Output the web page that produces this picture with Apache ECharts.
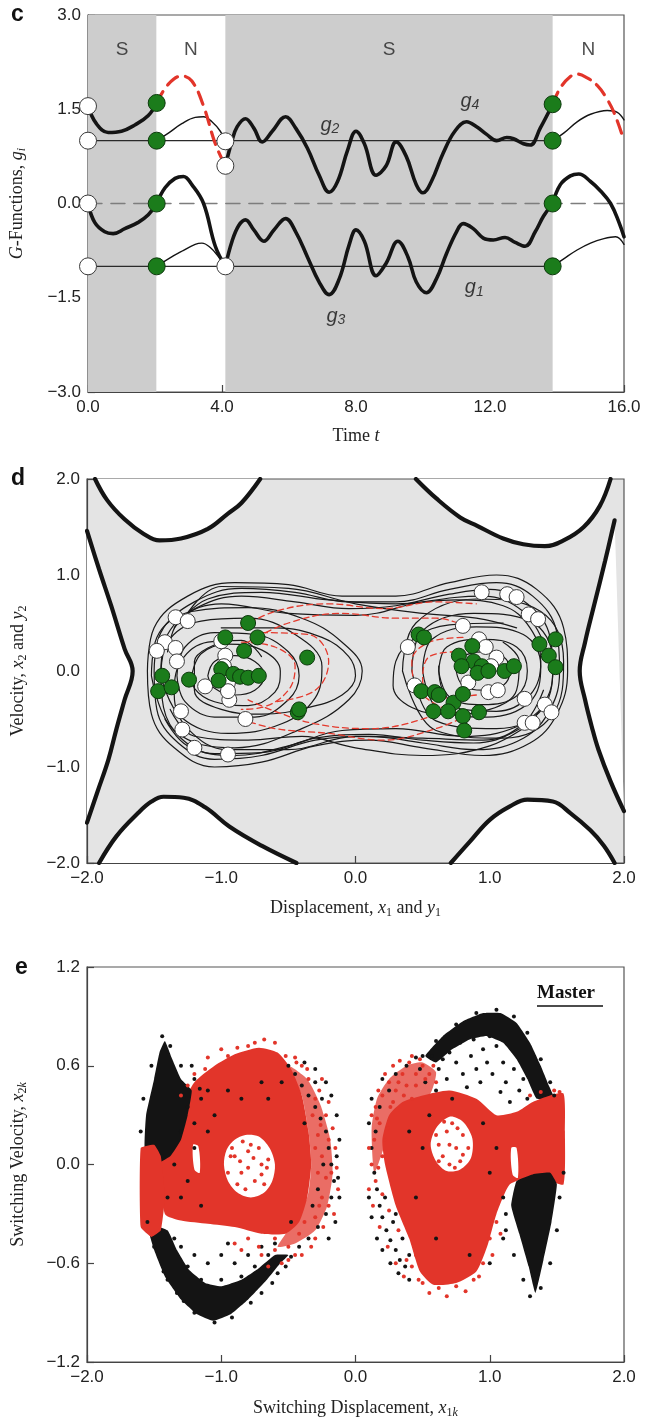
<!DOCTYPE html>
<html>
<head>
<meta charset="utf-8">
<script src="https://cdn.jsdelivr.net/npm/echarts@6/dist/echarts.min.js"></script>
<style>
  html, body { margin: 0; padding: 0; background: #fff; }
  #chart { width: 648px; height: 1427px; }
</style>
</head>
<body>
<div id="chart"></div>
<script>
// ---------- Panel c: G-functions over time ----------
const regionStart  = [0, 2.04, 4.1, 13.87];
const regionEnd    = [2.04, 4.1, 13.87, 16];
const regionLabel  = ['S', 'N', 'S', 'N'];
const regionShaded = [true, false, true, false];

const upperThickA = [[0,1.55],[0.25,1.27],[0.6,1.13],[1.0,1.15],[1.4,1.25],[1.8,1.4],[2.05,1.6]];
const upperDashA  = [[2.05,1.6],[2.4,1.9],[2.8,2.03],[3.1,1.95],[3.45,1.55],[3.8,0.95],[4.1,0.6]];
const upperThickB = [[4.1,0.6],[4.3,1.0],[4.45,1.22],[4.7,1.35],[4.95,1.2],[5.2,0.98],[5.5,1.15],[5.9,1.38],
  [6.2,1.2],[6.55,0.88],[6.9,0.45],[7.2,0.18],[7.45,0.35],[7.75,0.85],[8.0,1.15],[8.25,0.95],[8.6,0.45],
  [8.9,0.6],[9.2,0.98],[9.5,0.75],[9.8,0.3],[10.0,0.17],[10.25,0.35],[10.6,0.8],[10.95,1.15],[11.3,1.3],
  [11.6,1.22],[11.9,1.1],[12.2,1.0],[12.5,1.05],[12.7,1.03],[13.0,0.95],[13.2,0.93],[13.5,1.2],[13.87,1.58]];
const upperDashB  = [[13.87,1.58],[14.1,1.84],[14.4,2.02],[14.6,2.06],[14.9,2.0],[15.2,1.88],[15.45,1.7],[15.7,1.45],[16.0,1.0]];
const upperThinA  = [[2.05,1.0],[2.4,1.12],[2.8,1.27],[3.2,1.37],[3.45,1.38],[3.7,1.3],[3.95,1.15],[4.1,0.99]];
const upperThinB  = [[13.87,1.0],[14.2,1.12],[14.6,1.3],[15.0,1.42],[15.5,1.48],[15.8,1.45],[16.0,1.33]];

const lowerThickA = [[0,0],[0.2,-0.3],[0.5,-0.45],[0.75,-0.48],[1.1,-0.4],[1.5,-0.3],[1.8,-0.18],[2.05,0]];
const lowerThickB = [[2.05,0],[2.3,0.25],[2.6,0.4],[2.85,0.43],[3.1,0.3],[3.45,0.0],[3.8,-0.68],[4.1,-1.0]];
const lowerThickC = [[4.1,-1.0],[4.3,-0.6],[4.5,-0.35],[4.7,-0.26],[4.95,-0.42],[5.25,-0.6],[5.55,-0.42],
  [5.9,-0.24],[6.2,-0.45],[6.55,-0.85],[6.9,-1.25],[7.2,-1.45],[7.5,-1.2],[7.8,-0.65],[8.0,-0.42],[8.25,-0.6],
  [8.6,-1.15],[8.9,-0.95],[9.25,-0.6],[9.55,-0.85],[9.8,-1.25],[10.1,-1.42],[10.4,-1.2],[10.7,-0.8],[11.0,-0.45],
  [11.2,-0.32],[11.5,-0.4],[11.8,-0.55],[12.1,-0.58],[12.45,-0.54],[12.75,-0.62],[13.05,-0.68],[13.35,-0.45],
  [13.6,-0.2],[13.87,0]];
const lowerThickD = [[13.87,0],[14.1,0.3],[14.4,0.44],[14.65,0.47],[15.0,0.35],[15.3,0.2],[15.6,0.0],[15.85,-0.3],[16.0,-0.53]];
const lowerThinA  = [[2.05,-1.0],[2.4,-0.88],[2.8,-0.76],[3.2,-0.65],[3.4,-0.63],[3.65,-0.7],[3.9,-0.85],[4.1,-1.0]];
const lowerThinB  = [[13.87,-1.0],[14.2,-0.88],[14.6,-0.74],[15.0,-0.63],[15.4,-0.56],[15.75,-0.53],[16.0,-0.65]];

const baseHigh = [[0,1.0],[13.87,1.0]];
const baseLow  = [[0,-1.0],[13.87,-1.0]];
const zeroLine = [[0,0],[16,0]];

const whiteC = [[0,1.55],[0,1.0],[0,0],[0,-1.0],[4.1,0.99],[4.1,0.6],[4.1,-1.0]];
const greenC = [[2.05,1.6],[2.05,1.0],[2.05,0],[2.05,-1.0],[13.87,1.58],[13.87,1.0],[13.87,0],[13.87,-1.0]];

const gLabelSub = ['2', '4', '3', '1'];
const gLabelPos = [[7.22,1.25],[11.4,1.63],[7.4,-1.79],[11.53,-1.34]];

// ---------- Panel d: phase-plane trajectories ----------
const wallTopLeft  = [[-1.94,2.0],[-1.85,1.78],[-1.72,1.58],[-1.58,1.43],[-1.46,1.36],[-1.3,1.38],[-1.1,1.48],[-0.95,1.64],[-0.85,1.75],[-0.71,2.0]];
const wallTopRight = [[0.45,2.0],[0.6,1.8],[0.78,1.6],[0.91,1.51],[1.1,1.38],[1.25,1.32],[1.41,1.3],[1.55,1.36],[1.7,1.5],[1.82,1.72],[1.9,2.0]];
const wallLeft     = [[-2.0,1.46],[-1.91,1.06],[-1.82,0.68],[-1.72,0.23],[-1.66,0.0],[-1.72,-0.3],[-1.78,-0.6],[-1.84,-0.92],[-1.92,-1.25],[-2.0,-1.58]];
const wallRight    = [[1.93,1.57],[1.86,1.15],[1.78,0.7],[1.71,0.3],[1.67,0.0],[1.71,-0.3],[1.76,-0.58],[1.81,-0.82],[1.9,-1.15],[2.0,-1.46]];
const wallBotLeft  = [[-1.91,-2.0],[-1.78,-1.72],[-1.62,-1.48],[-1.52,-1.36],[-1.43,-1.31],[-1.28,-1.32],[-1.12,-1.42],[-0.94,-1.62],[-0.7,-1.82],[-0.44,-2.0]];
const wallBotRight = [[0.71,-2.0],[0.85,-1.78],[1.0,-1.55],[1.15,-1.41],[1.28,-1.34],[1.47,-1.36],[1.6,-1.48],[1.75,-1.66],[1.85,-1.82],[1.93,-2.0]];

const orbitsLeft = [
  [[-1.1,-0.05],[-1.05,0.1],[-0.9,0.16],[-0.75,0.1],[-0.68,-0.05],[-0.75,-0.2],[-0.9,-0.25],[-1.05,-0.18],[-1.1,-0.05]],
  [[-1.22,-0.05],[-1.15,0.18],[-0.95,0.28],[-0.7,0.22],[-0.56,0.0],[-0.6,-0.22],[-0.8,-0.36],[-1.05,-0.32],[-1.2,-0.18],[-1.22,-0.05]],
  [[-1.33,-0.05],[-1.27,0.25],[-1.05,0.4],[-0.75,0.38],[-0.5,0.2],[-0.42,-0.05],[-0.5,-0.3],[-0.75,-0.48],[-1.05,-0.48],[-1.27,-0.32],[-1.33,-0.05]],
  [[-1.45,-0.05],[-1.4,0.3],[-1.15,0.52],[-0.8,0.55],[-0.45,0.38],[-0.25,0.05],[-0.3,-0.28],[-0.55,-0.55],[-0.95,-0.65],[-1.3,-0.48],[-1.45,-0.05]],
  [[-1.52,-0.05],[-1.48,0.35],[-1.22,0.62],[-0.8,0.66],[-0.4,0.55],[-0.1,0.3],[0.05,0.0],[-0.05,-0.3],[-0.4,-0.6],[-0.9,-0.8],[-1.35,-0.62],[-1.52,-0.05]],
  [[-1.0,0.45],[-0.6,0.45],[-0.25,0.35],[-0.05,0.15],[0.0,-0.05],[-0.1,-0.25],[-0.35,-0.38],[-0.7,-0.45],[-1.0,-0.4],[-1.2,-0.2],[-1.2,0.1],[-1.0,0.3]]
];
const orbitsRight = [
  [[0.75,0],[0.8,0.15],[0.95,0.2],[1.1,0.15],[1.15,0],[1.1,-0.15],[0.95,-0.2],[0.8,-0.15],[0.75,0]],
  [[0.62,0],[0.68,0.25],[0.95,0.33],[1.2,0.25],[1.28,0],[1.2,-0.26],[0.95,-0.35],[0.7,-0.27],[0.62,0]],
  [[0.5,0],[0.57,0.33],[0.9,0.46],[1.25,0.38],[1.38,0.05],[1.3,-0.32],[0.98,-0.48],[0.62,-0.4],[0.5,0]],
  [[0.42,0.0],[0.5,0.42],[0.88,0.6],[1.3,0.52],[1.47,0.1],[1.4,-0.38],[1.05,-0.6],[0.6,-0.52],[0.42,0]],
  [[0.35,0],[0.45,0.5],[0.9,0.75],[1.38,0.62],[1.55,0.1],[1.47,-0.45],[1.1,-0.7],[0.6,-0.62],[0.35,0]],
  [[1.1,0.5],[0.7,0.48],[0.45,0.35],[0.3,0.1],[0.28,-0.15],[0.42,-0.38],[0.7,-0.45],[1.0,-0.4],[1.2,-0.2],[1.22,0.1],[1.1,0.3]]
];
const orbitsCross = [
  [[-1.55,0.0],[-1.5,0.45],[-1.25,0.78],[-0.9,0.92],[-0.5,0.9],[-0.1,0.78],[0.3,0.78],[0.7,0.92],[1.05,1.0],[1.35,0.85],[1.55,0.45],[1.58,0.0],[1.5,-0.45],[1.3,-0.75],[0.95,-0.88],[0.5,-0.8],[0.1,-0.72],[-0.3,-0.78],[-0.7,-0.95],[-1.05,-1.0],[-1.35,-0.8],[-1.52,-0.45],[-1.55,0]],
  [[-1.5,0.0],[-1.45,0.4],[-1.2,0.72],[-0.85,0.86],[-0.45,0.82],[-0.05,0.72],[0.3,0.72],[0.7,0.85],[1.05,0.92],[1.32,0.78],[1.5,0.4],[1.52,0.0],[1.45,-0.4],[1.25,-0.7],[0.9,-0.82],[0.5,-0.75],[0.1,-0.68],[-0.3,-0.72],[-0.7,-0.88],[-1.05,-0.92],[-1.32,-0.75],[-1.48,-0.4],[-1.5,0]],
  [[-1.45,0],[-1.4,0.38],[-1.18,0.66],[-0.85,0.78],[-0.45,0.72],[-0.05,0.65],[0.3,0.68],[0.7,0.8],[1.0,0.85],[1.28,0.7],[1.45,0.35],[1.47,0.0],[1.4,-0.35],[1.2,-0.62],[0.88,-0.75],[0.5,-0.72],[0.1,-0.66],[-0.3,-0.7],[-0.7,-0.85],[-1.05,-0.86],[-1.3,-0.7],[-1.43,-0.38],[-1.45,0]],
  [[-1.4,0.2],[-1.3,0.55],[-1.0,0.7],[-0.5,0.6],[0,0.58],[0.5,0.72],[0.95,0.78],[1.25,0.62],[1.4,0.3]],
  [[-1.3,0.5],[-1.0,0.88],[-0.5,0.86],[0,0.7],[0.5,0.6],[0.9,0.55],[1.2,0.45]],
  [[1.45,-0.3],[1.2,-0.58],[0.8,-0.68],[0.3,-0.6],[-0.1,-0.62],[-0.5,-0.78],[-0.9,-0.88],[-1.25,-0.78],[-1.42,-0.5]],
  [[1.35,-0.5],[1.0,-0.78],[0.5,-0.88],[0.0,-0.8],[-0.4,-0.68],[-0.8,-0.72],[-1.2,-0.68],[-1.38,-0.4]],
  [[-1.35,0.45],[-1.1,0.75],[-0.7,0.82],[-0.2,0.74],[0.3,0.7],[0.75,0.74],[1.1,0.68],[1.3,0.45],[1.38,0.1],[1.3,-0.25],[1.05,-0.42],[0.8,-0.4],[0.65,-0.2],[0.62,0.05]],
  [[1.4,-0.2],[1.25,-0.55],[0.95,-0.72],[0.5,-0.7],[0.0,-0.68],[-0.5,-0.82],[-0.95,-0.82],[-1.25,-0.6],[-1.35,-0.25],[-1.3,0.1],[-1.1,0.3],[-0.85,0.32],[-0.7,0.15]]
];
const slaveDashes = [
  [[-0.85,0.45],[-0.6,0.62],[-0.2,0.7],[0.2,0.65],[0.6,0.72],[0.9,0.7]],
  [[-0.8,0.3],[-0.5,0.5],[-0.1,0.6],[0.3,0.55],[0.6,0.55],[0.85,0.45]],
  [[0.85,-0.45],[0.6,-0.6],[0.2,-0.72],[-0.2,-0.65],[-0.6,-0.6],[-0.85,-0.5]],
  [[0.8,-0.3],[0.5,-0.5],[0.1,-0.6],[-0.3,-0.55],[-0.6,-0.42],[-0.8,-0.3]],
  [[-0.85,0.3],[-0.6,0.25],[-0.45,0.05],[-0.5,-0.2],[-0.7,-0.38],[-0.85,-0.4]],
  [[0.8,0.35],[0.55,0.3],[0.42,0.1],[0.45,-0.15],[0.6,-0.35],[0.8,-0.45]],
  [[-0.7,0.4],[-0.35,0.38],[-0.2,0.1],[-0.3,-0.2],[-0.6,-0.32]],
  [[0.75,0.2],[0.55,0.15],[0.5,-0.1],[0.65,-0.28],[0.9,-0.25]]
];

const whiteD = [[0.94,0.82],[1.13,0.8],[1.2,0.77],[1.29,0.59],[1.36,0.54],[0.8,0.47],[0.39,0.25],[0.44,-0.15],
  [0.92,0.33],[0.97,0.25],[1.05,0.14],[1.01,0.05],[0.84,-0.12],[0.99,-0.22],[1.06,-0.2],[1.26,-0.29],[1.41,-0.35],
  [1.46,-0.43],[1.26,-0.54],[1.32,-0.54],
  [-1.34,0.56],[-1.25,0.52],[-1.42,0.3],[-1.48,0.21],[-1.34,0.24],[-1.33,0.1],[-1.12,-0.16],[-0.95,-0.12],
  [-0.94,-0.3],[-0.95,-0.21],[-1.3,-0.42],[-1.29,-0.61],[-1.2,-0.8],[-0.95,-0.87],[-0.82,-0.5],[-0.97,0.16],
  [-0.98,0.05],[-1.0,0.31]];
const greenD = [[0.47,0.38],[0.51,0.35],[0.77,0.16],[0.87,0.26],[0.88,0.1],[0.94,0.05],[0.79,0.05],[0.91,-0.02],
  [0.99,0.0],[1.11,0.0],[1.18,0.05],[1.37,0.28],[1.49,0.33],[1.44,0.16],[1.49,0.04],[0.49,-0.21],[0.59,-0.22],
  [0.62,-0.25],[0.73,-0.33],[0.8,-0.24],[0.58,-0.42],[0.8,-0.47],[0.92,-0.43],[0.81,-0.62],[0.69,-0.42],
  [-0.8,0.5],[-0.73,0.35],[-0.97,0.35],[-0.83,0.21],[-0.36,0.14],[-1.44,-0.05],[-1.47,-0.21],[-1.37,-0.17],
  [-1.24,-0.09],[-1.0,0.02],[-1.02,-0.1],[-0.91,-0.03],[-0.86,-0.06],[-0.8,-0.07],[-0.72,-0.05],[-0.43,-0.43],[-0.42,-0.4]];

// ---------- Panel e: switching points ----------
const blackDense = [
  // lower-left crescent
  [[-1.55,-0.36],[-1.5,-0.52],[-1.42,-0.68],[-1.3,-0.82],[-1.18,-0.91],[-1.06,-0.95],[-0.93,-0.91],[-0.8,-0.82],
   [-0.66,-0.7],[-0.56,-0.6],[-0.5,-0.55],[-0.6,-0.55],[-0.72,-0.63],[-0.85,-0.7],[-1.0,-0.74],[-1.12,-0.72],
   [-1.24,-0.64],[-1.33,-0.52],[-1.4,-0.4]],
  // upper-left wedge
  [[-1.42,0.75],[-1.37,0.65],[-1.3,0.52],[-1.22,0.45],[-1.25,0.3],[-1.3,0.15],[-1.38,0.05],[-1.5,0.0],[-1.57,0.1],[-1.56,0.3],[-1.5,0.52],[-1.46,0.68]],
  // upper-right arc
  [[0.52,0.66],[0.65,0.78],[0.8,0.87],[0.95,0.92],[1.08,0.92],[1.2,0.86],[1.3,0.74],[1.38,0.6],[1.44,0.48],[1.48,0.4],
   [1.35,0.4],[1.28,0.52],[1.2,0.64],[1.1,0.74],[0.98,0.78],[0.85,0.76],[0.72,0.7],[0.6,0.62]],
  // lower-right wedge
  [[1.2,-0.1],[1.32,-0.06],[1.45,-0.05],[1.5,-0.12],[1.46,-0.35],[1.4,-0.58],[1.34,-0.78],[1.29,-0.62],[1.22,-0.42],[1.16,-0.25]]
];
const redDense = [
  [[-1.45,0.05],[-1.38,0.2],[-1.3,0.35],[-1.2,0.5],[-1.05,0.6],[-0.9,0.67],[-0.72,0.71],[-0.58,0.68],[-0.48,0.58],
   [-0.4,0.42],[-0.35,0.2],[-0.33,0.0],[-0.36,-0.2],[-0.42,-0.35],[-0.52,-0.42],[-0.7,-0.42],[-0.9,-0.38],
   [-1.1,-0.36],[-1.3,-0.34],[-1.42,-0.3]],
  [[-1.6,0.1],[-1.5,0.12],[-1.45,0.05],[-1.42,-0.2],[-1.45,-0.4],[-1.52,-0.44],[-1.6,-0.38]],
  [[0.25,0.3],[0.35,0.38],[0.5,0.42],[0.7,0.45],[0.9,0.4],[1.05,0.3],[1.2,0.32],[1.32,0.38],[1.45,0.42],[1.55,0.43],
   [1.56,0.2],[1.55,-0.12],[1.45,-0.1],[1.3,-0.08],[1.15,-0.12],[1.05,-0.3],[0.98,-0.5],[0.9,-0.65],[0.75,-0.72],
   [0.58,-0.73],[0.48,-0.65],[0.4,-0.45],[0.3,-0.25],[0.22,0.0],[0.2,0.15]]
];
// medium-density (mottled) zones, drawn lighter underneath the solid cores
const redMottled = [
  [[0.12,0.22],[0.16,0.4],[0.25,0.52],[0.38,0.6],[0.5,0.62],[0.6,0.56],[0.55,0.42],[0.4,0.38],[0.27,0.3],[0.21,0.1],[0.14,-0.05]],
  [[-0.5,0.6],[-0.36,0.52],[-0.26,0.36],[-0.19,0.16],[-0.17,-0.05],[-0.21,-0.25],[-0.3,-0.4],[-0.45,-0.48],[-0.58,-0.5],
   [-0.52,-0.42],[-0.36,-0.2],[-0.33,0.0],[-0.35,0.2],[-0.4,0.42]]
];
const voids = [
  [[-0.98,0.0],[-0.96,0.09],[-0.9,0.15],[-0.82,0.18],[-0.72,0.17],[-0.64,0.1],[-0.6,0.0],[-0.62,-0.1],[-0.68,-0.17],[-0.78,-0.2],[-0.88,-0.17],[-0.95,-0.1]],
  [[-1.21,0.12],[-1.17,0.11],[-1.16,-0.05],[-1.2,-0.03]],
  [[0.56,0.12],[0.6,0.22],[0.7,0.29],[0.8,0.26],[0.87,0.16],[0.86,0.04],[0.78,-0.03],[0.68,-0.04],[0.6,0.02]],
  [[1.16,0.1],[1.2,0.1],[1.21,-0.08],[1.17,-0.06]]
];
const blackDots = [[0.62,0.58],[0.68,0.52],[0.75,0.62],[0.8,0.55],[0.86,0.66],[0.9,0.58],[0.95,0.7],[0.98,0.62],
  [1.02,0.55],[1.05,0.72],[1.1,0.62],[1.12,0.5],[1.18,0.58],[1.22,0.45],[1.25,0.52],[0.7,0.68],[0.78,0.74],[0.88,0.76],
  [1.0,0.78],[0.6,0.45],[0.52,0.5],[0.48,0.58],[0.57,0.66],[0.83,0.47],[0.93,0.5],[1.08,0.44],[1.15,0.38],[1.28,0.4],
  [0.72,0.4],[0.65,0.64],[0.12,0.1],[0.14,-0.05],[0.16,-0.15],[0.18,-0.25],[0.2,-0.32],[0.23,-0.4],[0.26,-0.46],
  [0.3,-0.52],[0.33,-0.58],[0.37,-0.62],[0.22,-0.2],[0.28,-0.35],[0.35,-0.45],[0.3,-0.3],[0.4,-0.55],[0.15,0.2],
  [0.18,0.35],[0.25,0.45],[0.3,0.55],[0.38,0.6],[0.45,0.65],[0.5,0.1],[0.45,-0.2],[0.6,-0.45],[0.85,-0.55],
  [1.0,-0.05],[1.05,0.1],[0.95,0.25],[1.12,-0.3],[1.1,-0.45],[1.0,-0.6],[0.55,0.3],[0.4,0.2],
  [-0.45,0.55],[-0.4,0.48],[-0.35,0.42],[-0.3,0.35],[-0.26,0.28],[-0.22,0.2],[-0.2,0.1],[-0.18,0.0],[-0.16,-0.1],
  [-0.18,-0.2],[-0.22,-0.3],[-0.28,-0.38],[-0.35,-0.45],[-0.42,-0.5],[-0.3,0.5],[-0.25,0.4],[-0.14,0.05],
  [-0.13,-0.08],[-0.24,0.0],[-0.28,-0.15],[-0.5,0.6],[-0.55,0.5],[-0.38,0.25],[-0.32,-0.25],[-0.48,-0.35],
  [-1.3,-0.5],[-1.2,-0.55],[-1.1,-0.6],[-1.0,-0.55],[-0.9,-0.6],[-0.8,-0.55],[-0.7,-0.5],[-0.65,-0.55],[-1.15,-0.7],
  [-1.0,-0.7],[-0.85,-0.68],[-1.25,-0.62],[-0.95,-0.48],[-0.75,-0.62],[-1.35,-0.45],[-0.6,-0.48],
  [-1.25,0.35],[-1.2,0.25],[-1.15,0.4],[-1.1,0.2],[-1.05,0.3],[-1.2,0.1],[-1.3,0.2],[-1.25,-0.1],[-1.3,-0.2],
  [-1.15,-0.25],[-0.95,0.45],[-0.85,0.4],[-0.7,0.5],[-0.65,0.4],[-1.35,0.0],[-1.4,-0.2],
  [-1.55,-0.35],[-1.5,-0.5],[-1.43,-0.65],[-1.33,-0.78],[-1.2,-0.9],[-1.05,-0.96],[-0.92,-0.93],[-0.78,-0.84],
  [-0.62,-0.72],[-0.52,-0.62],[-0.48,-0.56],[-0.58,-0.66],[-0.7,-0.78],[-1.4,-0.7],[-1.28,-0.83],
  [-1.6,0.2],[-1.58,0.4],[-1.52,0.6],[-1.44,0.78],[-1.38,0.72],[-1.3,0.6],[-1.2,0.52],[-1.16,0.46],[-1.22,0.6],[-1.1,0.45],
  [0.5,0.66],[0.6,0.75],[0.75,0.85],[0.9,0.92],[1.05,0.94],[1.18,0.9],[1.28,0.8],[1.38,0.64],[1.45,0.5],[1.48,0.42],
  [1.52,-0.2],[1.5,-0.4],[1.45,-0.6],[1.38,-0.75],[1.3,-0.8],[1.25,-0.7],[1.18,-0.55],[1.12,-0.4],[1.1,-0.2],[1.55,-0.05],
  [0.1,-0.2],[0.12,-0.32],[0.16,-0.45],[0.2,-0.52],[0.26,-0.6],[0.32,-0.66],[0.4,-0.7],[0.1,0.25],[0.12,0.4],[0.2,0.52],
  [-0.12,0.15],[-0.12,-0.2],[-0.15,-0.35],[-0.2,-0.45],[-0.14,0.3],[-0.18,0.42],[-0.22,0.5],[-0.3,0.58],[-0.38,0.62]];
const redDots = [[-0.9,0.05],[-0.85,-0.05],[-0.8,0.08],[-0.75,-0.1],[-0.7,0.0],[-0.78,0.12],[-0.88,-0.12],[-0.68,-0.12],
  [-0.72,0.1],[-0.82,-0.15],[-0.92,0.1],[-0.65,0.03],[-0.32,0.3],[-0.28,0.18],[-0.25,0.05],[-0.22,-0.08],[-0.25,-0.2],
  [-0.3,-0.32],[-0.2,0.15],[-0.18,-0.05],[-0.27,0.45],[-0.35,0.52],[-0.4,0.6],[-0.2,-0.25],[-0.42,-0.42],[-0.3,-0.45],
  [-0.22,0.3],[-0.5,-0.5],[-0.6,-0.45],[-0.7,-0.55],[-0.8,-0.45],[-0.55,-0.6],[-0.45,-0.55],[-0.9,-0.48],[-0.65,-0.62],
  [-1.1,0.65],[-1.0,0.7],[-0.8,0.72],[-0.6,0.74],[-1.2,0.55],[-0.45,0.65],[0.62,0.12],[0.68,0.2],[0.75,0.1],
  [0.7,0.0],[0.8,0.18],[0.65,0.05],[0.78,0.02],[0.72,0.25],[0.15,0.35],[0.2,0.42],[0.25,0.5],[0.3,0.45],[0.35,0.55],
  [0.4,0.62],[0.45,0.55],[0.5,0.6],[0.55,0.55],[0.18,0.25],[0.22,0.15],[0.28,0.38],[0.38,0.48],[0.12,0.0],
  [0.15,-0.1],[0.2,-0.18],[0.25,-0.28],[0.32,-0.4],[0.6,0.5],[0.42,0.4],[0.14,0.15],[0.42,-0.62],[0.5,-0.72],
  [0.62,-0.75],[0.75,-0.74],[0.88,-0.7],[0.95,-0.6],[1.0,-0.45],[1.05,-0.35],[0.45,-0.55],[1.3,0.42],[1.38,0.44],
  [1.48,0.45],[1.52,0.44],
  [0.12,0.3],[0.17,0.45],[0.22,0.55],[0.28,0.6],[0.33,0.63],[0.42,0.66],[0.48,0.64],[0.16,0.28],[0.1,0.1],[0.1,-0.15],
  [0.13,-0.25],[0.18,-0.38],[0.24,-0.5],[0.3,-0.6],[0.36,-0.68],[0.26,0.35],[0.32,0.5],[0.2,0.05],[0.17,-0.02],
  [0.24,0.22],[0.36,0.42],[0.45,0.48],[0.52,0.52],[0.58,0.6],
  [-0.15,0.1],[-0.13,-0.15],[-0.16,-0.3],[-0.24,-0.38],[-0.33,-0.5],[-0.4,-0.55],[-0.5,-0.58],[-0.6,-0.52],[-0.72,-0.5],
  [-0.85,-0.52],[-0.3,0.4],[-0.36,0.58],[-0.44,0.62],[-0.26,0.24],[-0.2,0.38],[-0.17,0.22],[-0.14,-0.02],[-0.28,-0.05],
  [-0.3,0.1],[-0.27,-0.25],[-0.38,-0.35],[-0.25,0.52],[-0.52,0.66],[-0.68,0.76],[-0.75,0.74],[-0.88,0.71],[-0.95,0.66],
  [-1.12,0.58],[-1.25,0.48],[-1.3,0.42],
  [-0.95,-0.05],[-0.93,0.05],[-0.84,0.14],[-0.76,0.04],[-0.7,-0.06],[-0.66,-0.02],[-0.8,-0.02],[-0.86,0.02],
  [0.6,0.18],[0.66,0.26],[0.76,0.22],[0.84,0.1],[0.8,0.06],[0.7,0.12],[0.62,0.02],[0.74,-0.02],
  [0.55,-0.78],[0.68,-0.8],[0.82,-0.77],[0.92,-0.68],[1.02,-0.55],[1.08,-0.42],[0.38,-0.58],[0.47,-0.7]];

// ---------- styling helpers ----------
const RED = '#e2352a', GREEN = '#1b7c1b', INK = '#141414';
const tickFont = 'Liberation Sans';
const serif = 'Liberation Serif';
const fmt = v => v.toFixed(1).replace('-', '\u2212');
const nameRich = {
  t: { fontFamily: serif, fontSize: 18, color: '#222', lineHeight: 22 },
  i: { fontFamily: serif, fontSize: 18, fontStyle: 'italic', color: '#222', lineHeight: 22 },
  s: { fontFamily: serif, fontSize: 12, color: '#222', verticalAlign: 'bottom', lineHeight: 12 },
  si: { fontFamily: serif, fontSize: 12, fontStyle: 'italic', color: '#222', verticalAlign: 'bottom', lineHeight: 12 }
};

function axis(gridIndex, min, max, interval, name, nameGap) {
  return {
    gridIndex, type: 'value', min, max, interval,
    name, nameLocation: 'middle', nameGap,
    nameTextStyle: { rich: nameRich },
    axisLine: { show: true, onZero: false, lineStyle: { color: '#444', width: 1.2 } },
    axisTick: { show: true, inside: true, length: 7, lineStyle: { color: '#444', width: 1.2 } },
    axisLabel: { color: '#222', fontFamily: tickFont, fontSize: 17, margin: 7, formatter: fmt },
    splitLine: { show: false }
  };
}

function line(idx, data, color, width, type, z) {
  return {
    type: 'line', xAxisIndex: idx, yAxisIndex: idx, data, smooth: 0.4,
    showSymbol: false, symbol: 'none', silent: true, z: z || 3,
    lineStyle: { color, width, type: type || 'solid', cap: 'round' }
  };
}

function dots(idx, data, fill, border, size, z) {
  return {
    type: 'scatter', xAxisIndex: idx, yAxisIndex: idx, data, symbol: 'circle', symbolSize: size,
    silent: true, z: z || 6,
    itemStyle: { color: fill, borderColor: border, borderWidth: border ? 1 : 0, opacity: 1 }
  };
}

function poly(idx, pts, fill, opacity, z, smooth) {
  return {
    type: 'custom', xAxisIndex: idx, yAxisIndex: idx, silent: true, z: z || 2,
    data: [pts[0]],
    renderItem: (params, api) => ({
      type: 'polygon',
      shape: { points: pts.map(p => api.coord(p)), smooth: smooth || 0 },
      style: { fill, opacity: opacity == null ? 1 : opacity }
    })
  };
}

// ---------- assemble series ----------
const series = [];

// panel c shading and region labels
series.push({
  type: 'line', xAxisIndex: 0, yAxisIndex: 0, data: [], silent: true, z: 1,
  markArea: {
    silent: true,
    itemStyle: { color: '#cdcdcd' },
    label: { show: false },
    data: regionStart.map((s, k) => regionShaded[k] ? [{ xAxis: s }, { xAxis: regionEnd[k] }] : null).filter(Boolean)
  }
});
series.push({
  type: 'scatter', xAxisIndex: 0, yAxisIndex: 0, symbolSize: 0, silent: true, z: 5,
  data: regionStart.map((s, k) => [(s + regionEnd[k]) / 2, 2.45, regionLabel[k]]),
  label: { show: true, position: 'inside', formatter: p => p.data[2],
           fontFamily: tickFont, fontSize: 19, color: '#222' }
});
series.push(line(0, zeroLine, '#7d7d7d', 1.6, [14, 9], 2));
series.push(line(0, baseHigh, '#2a2a2a', 1.3, 'solid', 2));
series.push(line(0, baseLow, '#2a2a2a', 1.3, 'solid', 2));
[upperThinA, upperThinB, lowerThinA, lowerThinB].forEach(d => series.push(line(0, d, INK, 1.4)));
[upperThickA, upperThickB, lowerThickA, lowerThickB, lowerThickC, lowerThickD].forEach(d => series.push(line(0, d, INK, 3.6)));
[upperDashA, upperDashB].forEach(d => series.push(line(0, d, RED, 3.2, [13, 8], 4)));
series.push(dots(0, whiteC, '#ffffff', '#3a3a3a', 17));
series.push(dots(0, greenC, GREEN, '#0d3a0d', 17));
series.push({
  type: 'scatter', xAxisIndex: 0, yAxisIndex: 0, symbolSize: 0, silent: true, z: 7,
  data: gLabelPos.map((p, k) => [p[0], p[1], gLabelSub[k]]),
  label: {
    show: true, position: 'inside', formatter: p => '{g|g}{n|' + p.data[2] + '}',
    rich: {
      g: { fontFamily: tickFont, fontStyle: 'italic', fontSize: 20, color: '#111', lineHeight: 22 },
      n: { fontFamily: tickFont, fontStyle: 'italic', fontSize: 14, color: '#111', verticalAlign: 'bottom', lineHeight: 14 }
    }
  }
});

// panel d
[wallTopLeft, wallTopRight, wallLeft, wallRight, wallBotLeft, wallBotRight].forEach(w => series.push(poly(1, w, '#ffffff', 1, 1)));
orbitsLeft.concat(orbitsRight, orbitsCross).forEach(o => series.push(line(1, o, '#1a1a1a', 1.2, 'solid', 2)));
slaveDashes.forEach(o => series.push(line(1, o, '#e4392c', 1.3, [6, 4], 3)));
[wallTopLeft, wallTopRight, wallLeft, wallRight, wallBotLeft, wallBotRight].forEach(w => series.push(line(1, w, INK, 4.2, 'solid', 4)));
series.push(dots(1, whiteD, '#ffffff', '#3a3a3a', 15));
series.push(dots(1, greenD, GREEN, '#0d3a0d', 15, 7));

// panel e
series.push(poly(2, blackDense[0], INK, 1, 2, 0.12));
series.push(poly(2, blackDense[2], INK, 1, 2, 0.12));
redMottled.forEach(p => series.push(poly(2, p, RED, 0.72, 2, 0.2)));
series.push(poly(2, redDense[0], RED, 1, 2, 0.2));
series.push(poly(2, redDense[2], RED, 1, 2, 0.2));
series.push(poly(2, blackDense[1], INK, 1, 2, 0.12));
series.push(poly(2, blackDense[3], INK, 1, 2, 0.12));
series.push(poly(2, redDense[1], RED, 1, 2, 0.12));
voids.forEach(p => series.push(poly(2, p, '#ffffff', 1, 2, 0.3)));
series.push(dots(2, blackDots, INK, null, 4, 3));
series.push(dots(2, redDots, RED, null, 4, 4));

const option = {
  animation: false,
  backgroundColor: '#ffffff',
  grid: [
    { left: 87, right: 24, top: 15, height: 377, show: true, borderColor: '#555', borderWidth: 1.2, backgroundColor: '#ffffff' },
    { left: 87, right: 24, top: 479, height: 384, show: true, borderColor: '#555', borderWidth: 1.2, backgroundColor: '#e4e4e4' },
    { left: 87, right: 24, top: 967, height: 395, show: true, borderColor: '#555', borderWidth: 1.2, backgroundColor: '#ffffff' }
  ],
  xAxis: [
    axis(0, 0, 16, 4, '{t|Time }{i|t}', 33),
    axis(1, -2, 2, 1, '{t|Displacement, }{i|x}{s|1}{t| and }{i|y}{s|1}', 34),
    axis(2, -2, 2, 1, '{t|Switching Displacement, }{i|x}{s|1}{si|k}', 35)
  ],
  yAxis: [
    axis(0, -3, 3, 1.5, '{i|G}{t|-Functions, }{i|g}{si|i}', 60),
    axis(1, -2, 2, 1, '{t|Velocity, }{i|x}{s|2}{t| and }{i|y}{s|2}', 58),
    axis(2, -1.2, 1.2, 0.6, '{t|Switching Velocity, }{i|x}{s|2}{si|k}', 58)
  ],
  graphic: [
    { type: 'text', left: 11, top: 3, style: { text: 'c', font: 'bold 23px "Liberation Sans"', fill: '#111' } },
    { type: 'text', left: 11, top: 467, style: { text: 'd', font: 'bold 23px "Liberation Sans"', fill: '#111' } },
    { type: 'text', left: 15, top: 956, style: { text: 'e', font: 'bold 23px "Liberation Sans"', fill: '#111' } },
    { type: 'text', left: 537, top: 984, style: { text: 'Master', font: 'bold 19px "Liberation Serif"', fill: '#111' } },
    { type: 'line', shape: { x1: 537, y1: 1006, x2: 603, y2: 1006 }, style: { stroke: '#111', lineWidth: 1.5 } }
  ],
  series
};

const chart = echarts.init(document.getElementById('chart'), null, { renderer: 'canvas' });
chart.setOption(option);
</script>
</body>
</html>
